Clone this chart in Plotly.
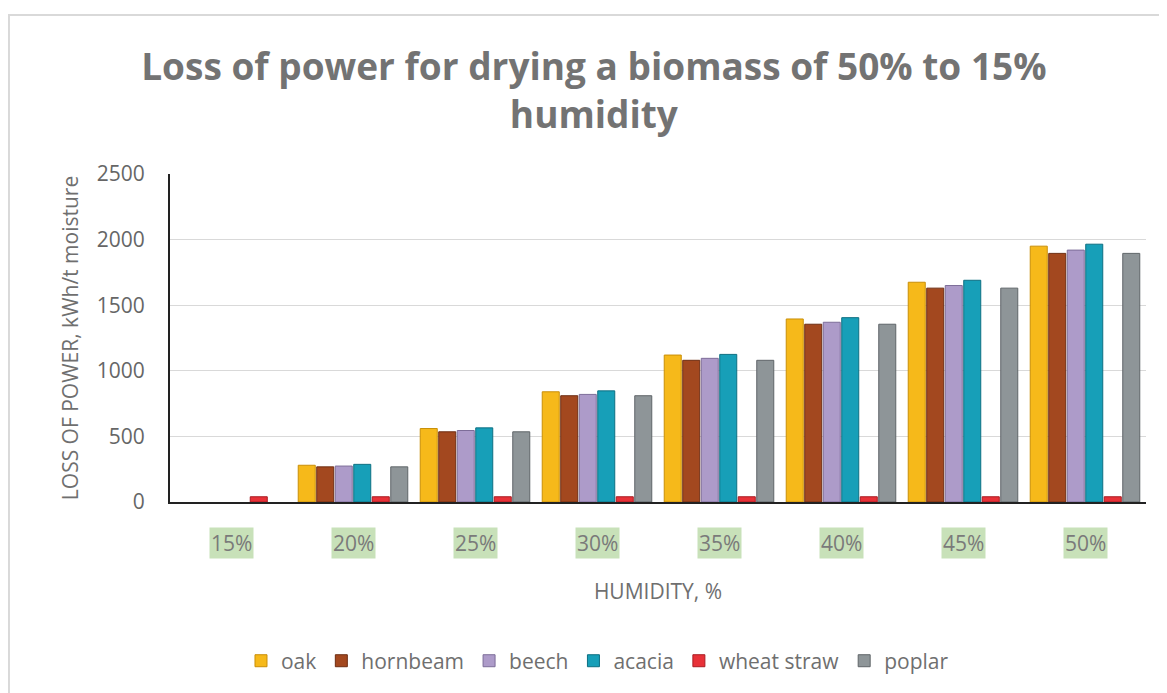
import plotly.graph_objects as go

categories = ["15%", "20%", "25%", "30%", "35%", "40%", "45%", "50%"]
oak = [None, 280, 560, 840, 1120, 1395, 1675, 1950]
hornbeam = [None, 268, 535, 810, 1080, 1355, 1630, 1895]
beech = [None, 274, 545, 820, 1095, 1370, 1650, 1920]
acacia = [None, 287, 565, 847, 1125, 1405, 1690, 1965]
wheat_straw = [40, 40, 40, 40, 40, 40, 40, 40]
poplar = [None, 268, 535, 810, 1080, 1355, 1630, 1895]

series = [
    ("oak", oak, "#f6b91a", "#c98f08"),
    ("hornbeam", hornbeam, "#a3481f", "#6e2d12"),
    ("beech", beech, "#ad9bc9", "#7d6d99"),
    ("acacia", acacia, "#179fb8", "#0d6f82"),
    ("wheat straw", wheat_straw, "#e83138", "#a91c22"),
    ("poplar", poplar, "#8e9598", "#5f6568"),
]

fig = go.Figure()
for name, vals, col, edge in series:
    fig.add_trace(go.Bar(
        name=name, x=categories, y=vals,
        marker=dict(color=col, line=dict(color=edge, width=1)),
    ))

gray = "#6f6f6f"
font_family = "Open Sans, Liberation Sans, sans-serif"

annotations = []
for c in categories:
    annotations.append(dict(
        x=c, xref="x", y=-0.125, yref="paper", text=c, showarrow=False,
        font=dict(size=21, color="#7a7a7a", family=font_family),
        bgcolor="#c8e1b9", borderpad=1, xanchor="center", yanchor="middle",
    ))

fig.update_layout(
    width=1159, height=685,
    paper_bgcolor="white", plot_bgcolor="white",
    margin=dict(l=162, r=21, t=166, b=191),
    barmode="group", bargap=0.09, bargroupgap=0.08,
    title=dict(
        text="<b>Loss of power for drying a biomass of 50% to 15%<br>humidity</b>",
        x=0.5055, xanchor="center", y=(685 - 72) / 685, yanchor="middle",
        font=dict(size=37, color="#737373", family=font_family),
    ),
    font=dict(family=font_family, color=gray),
    xaxis=dict(
        showticklabels=False, showline=True, linecolor="#222222", linewidth=2,
        ticks="",
        title=dict(text="HUMIDITY, %", font=dict(size=21, color=gray), standoff=81),
    ),
    yaxis=dict(
        range=[0, 2500], dtick=500, showgrid=True, gridcolor="#d9d9d9", gridwidth=1,
        showline=True, linecolor="#222222", linewidth=2, zeroline=False,
        tickfont=dict(size=21, color="#666666"), ticks="", ticklabelstandoff=19,
        title=dict(text="LOSS OF POWER, kWh/t moisture", font=dict(size=21, color=gray), standoff=12),
    ),
    legend=dict(
        orientation="h", x=0.438, xanchor="center", y=-0.485, yanchor="middle",
        font=dict(size=21, color=gray), itemwidth=30,
    ),
    annotations=annotations,
    shapes=[dict(
        type="rect", xref="paper", yref="paper",
        x0=-0.165, x1=1.06, y0=-0.62, y1=1.485,
        line=dict(color="#d9d9d9", width=2), fillcolor="rgba(0,0,0,0)", layer="below",
    )],
)

fig.write_html("out.html")
